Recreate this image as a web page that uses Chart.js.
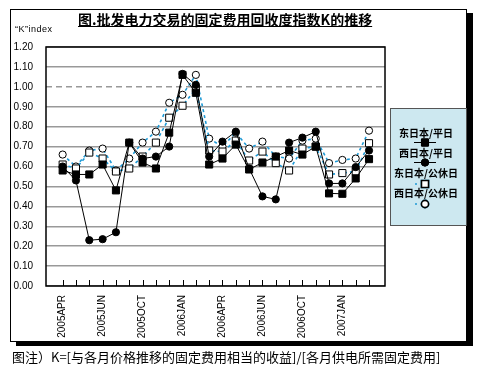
<!DOCTYPE html>
<html>
<head>
<meta charset="utf-8">
<script src="https://cdn.jsdelivr.net/npm/chart.js@4.4.1/dist/chart.umd.min.js"></script>
<style>
body { margin: 0; background: #fff; }
#wrap { position: relative; width: 480px; height: 380px; font-family: "Noto Sans CJK SC", sans-serif; }
#frame { position: absolute; left: 10px; top: 9px; width: 457px; height: 333px; box-sizing: border-box; border: 1px solid #000; box-shadow: 6px 4px 0 #000; }
canvas { position: absolute; left: 0; top: 0; }
#title { position: absolute; left: 78px; top: 11px; font-weight: bold; font-size: 14px; line-height: 16px; text-decoration: underline; white-space: nowrap; }
#ylab { position: absolute; left: 15px; top: 24px; font-family: "Liberation Sans", sans-serif; font-size: 9px; letter-spacing: 0.5px; }
#note { position: absolute; left: 12px; top: 347px; font-size: 13px; white-space: nowrap; }
</style>
</head>
<body>
<div id="wrap">
  <div id="frame"></div>
  <canvas id="grafico" width="480" height="380"></canvas>
  <div id="title">图.批发电力交易的固定费用回收度指数K的推移</div>
  <div id="ylab">“K”index</div>
  <div id="note">图注）K=[与各月价格推移的固定费用相当的收益]/[各月供电所需固定费用]</div>
</div>
<script>
// eixo x: um ponto por mes, rotulo so a cada tres
const meses = ['2005APR', '', '', '2005JUN', '', '', '2005OCT', '', '', '2006JAN', '', '',
    '2006APR', '', '', '2006JUN', '', '', '2006OCT', '', '', '2007JAN', '', '']

const leste_util = [0.58, 0.56, 0.56, 0.61, 0.48, 0.72, 0.62, 0.59, 0.77, 1.06, 0.97, 0.61,
    0.64, 0.71, 0.585, 0.62, 0.65, 0.68, 0.66, 0.70, 0.465, 0.463, 0.54, 0.637]
const oeste_util = [0.60, 0.53, 0.23, 0.235, 0.27, 0.72, 0.64, 0.65, 0.70, 1.065, 1.01, 0.65,
    0.725, 0.775, 0.59, 0.45, 0.435, 0.72, 0.745, 0.775, 0.515, 0.515, 0.597, 0.68]
const leste_feriado = [0.61, 0.59, 0.67, 0.64, 0.575, 0.59, 0.65, 0.72, 0.845, 0.905, 0.99, 0.68,
    0.675, 0.73, 0.63, 0.675, 0.617, 0.58, 0.69, 0.70, 0.56, 0.567, 0.575, 0.717]
const oeste_feriado = [0.66, 0.60, 0.68, 0.69, 0.58, 0.64, 0.72, 0.775, 0.92, 0.96, 1.06, 0.74,
    0.70, 0.77, 0.69, 0.725, 0.65, 0.64, 0.73, 0.74, 0.617, 0.633, 0.64, 0.78]

const nomes = ['东日本/平日', '西日本/平日', '东日本/公休日', '西日本/公休日']

const azul = '#1E9AD6'

function serie(nome, valores, estilo) {
    return Object.assign({
        label: nome,
        data: valores.map((v, i) => ({ x: i, y: v }))
    }, estilo)
}

const dados = {
    datasets: [
        serie(nomes[0], leste_util, {
            borderColor: '#000', borderWidth: 1, pointStyle: 'rect', pointRadius: 5,
            pointBackgroundColor: '#000', pointBorderColor: '#000'
        }),
        serie(nomes[1], oeste_util, {
            borderColor: '#000', borderWidth: 1, pointStyle: 'circle', pointRadius: 3.6,
            pointBackgroundColor: '#000', pointBorderColor: '#000'
        }),
        serie(nomes[2], leste_feriado, {
            borderColor: azul, borderWidth: 1.6, borderDash: [3, 3], pointStyle: 'rect', pointRadius: 5,
            pointBackgroundColor: '#fff', pointBorderColor: '#000', pointBorderWidth: 1
        }),
        serie(nomes[3], oeste_feriado, {
            borderColor: azul, borderWidth: 1.6, borderDash: [3, 3], pointStyle: 'circle', pointRadius: 3.6,
            pointBackgroundColor: '#fff', pointBorderColor: '#000', pointBorderWidth: 1
        })
    ]
}

// linha tracejada do 1.00, borda da area e tracinhos do eixo x
const moldura = {
    id: 'moldura',
    beforeDatasetsDraw(chart) {
        const { ctx, chartArea: a, scales } = chart
        const y1 = scales.y.getPixelForValue(1)
        ctx.save()
        ctx.strokeStyle = '#999'
        ctx.lineWidth = 1.5
        ctx.setLineDash([6, 4])
        ctx.beginPath()
        ctx.moveTo(a.left, y1)
        ctx.lineTo(a.right, y1)
        ctx.stroke()
        ctx.setLineDash([])
        ctx.strokeStyle = '#000'
        ctx.lineWidth = 1
        meses.forEach((m, i) => {
            const x = Math.round(scales.x.getPixelForValue(i)) + 0.5
            ctx.beginPath()
            ctx.moveTo(x, a.bottom)
            ctx.lineTo(x, a.bottom - 6)
            ctx.stroke()
        })
        ctx.lineWidth = 1.5
        ctx.strokeRect(a.left, a.top, a.right - a.left, a.bottom - a.top)
        ctx.restore()
    }
}

// legenda na caixa azul clara
const legenda = {
    id: 'legenda',
    afterDraw(chart) {
        const ctx = chart.ctx
        const caixa = { x: 390.5, y: 108.5, w: 76, h: 117 }
        ctx.save()
        ctx.fillStyle = '#CDE8F0'
        ctx.fillRect(caixa.x, caixa.y, caixa.w, caixa.h)
        ctx.strokeStyle = '#555'
        ctx.lineWidth = 1
        ctx.strokeRect(caixa.x, caixa.y, caixa.w, caixa.h)
        const cx = 425
        const linhas = [[133, 142.5], [153, 162.5], [173, 184], [193, 204]]
        chart.data.datasets.forEach((ds, i) => {
            const [ty, my] = linhas[i]
            ctx.fillStyle = '#000'
            ctx.font = 'bold 10px "Noto Sans CJK SC"'
            ctx.textAlign = 'center'
            ctx.textBaseline = 'middle'
            ctx.fillText(ds.label, cx + 1, ty)
            ctx.strokeStyle = ds.borderColor
            ctx.lineWidth = ds.borderWidth
            ctx.setLineDash(ds.borderDash || [])
            ctx.beginPath()
            if (ds.borderDash) {
                ctx.moveTo(cx - 10, my)
                ctx.lineTo(cx - 8, my)
            } else {
                ctx.moveTo(cx - 11, my)
                ctx.lineTo(cx + 11, my)
            }
            ctx.stroke()
            ctx.setLineDash([])
            Chart.helpers.drawPoint(ctx, {
                pointStyle: ds.pointStyle, radius: ds.pointRadius, borderWidth: 1
            }, cx, my)
            ctx.fillStyle = ds.pointBackgroundColor
            ctx.strokeStyle = ds.pointBorderColor
            ctx.fill()
            ctx.stroke()
        })
        ctx.restore()
    }
}

const configuracao = {
    type: 'line',
    data: dados,
    plugins: [moldura, legenda],
    options: {
        responsive: false,
        animation: false,
        layout: { padding: { left: 0, top: 47, right: 95, bottom: 34 } },
        plugins: { legend: { display: false }, tooltip: { enabled: false } },
        scales: {
            x: {
                type: 'linear',
                min: -1.25,
                max: 24.2,
                afterBuildTicks: s => { s.ticks = meses.map((m, i) => ({ value: i })) },
                afterFit: s => { s.height = 60 },
                grid: { display: false, drawTicks: false },
                border: { display: false },
                ticks: {
                    autoSkip: false, minRotation: 90, maxRotation: 90, padding: 9,
                    color: '#000', font: { family: 'Liberation Sans', size: 10 },
                    callback: v => meses[v]
                }
            },
            y: {
                min: 0,
                max: 1.2,
                afterFit: s => { s.width = 46 },
                grid: {
                    drawTicks: false, lineWidth: 1.5,
                    color: c => Math.abs(c.tick.value - 1) < 0.001 ? 'rgba(0,0,0,0)' : '#999'
                },
                border: { display: false },
                ticks: {
                    stepSize: 0.1, padding: 13, color: '#000',
                    font: { family: 'Liberation Sans', size: 10 },
                    callback: v => v.toFixed(2)
                }
            }
        }
    }
}

new Chart(document.getElementById('grafico').getContext('2d'), configuracao)
</script>
</body>
</html>
